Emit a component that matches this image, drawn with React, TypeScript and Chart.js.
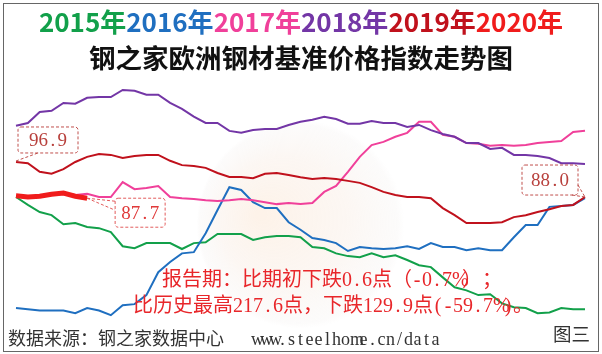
import React, { useEffect, useRef } from "react";
import { Chart, registerables } from "chart.js";

Chart.register(...registerables);

const weeks = ["1","2","3","4","5","6","7","8","9","10","11","12","13","14","15","16","17","18","19","20","21","22","23","24","25","26","27","28","29","30","31","32","33","34","35","36","37","38","39","40","41","42","43","44","45","46","47","48","49"];

const y2015 = [88.0,86.0,84.2,83.4,81.1,81.4,80.4,80.1,79.1,75.5,75.0,76.3,76.3,76.3,74.8,76.3,76.5,78.6,78.6,78.6,77.1,77.8,78.1,78.1,77.8,75.3,75.0,73.7,73.0,72.7,73.7,72.7,73.2,72.0,70.7,70.2,67.6,65.1,64.3,63.1,63.3,61.0,60.0,59.8,58.5,58.7,59.8,59.5,59.5];
const y2016 = [59.8,59.5,59.2,59.2,59.2,58.5,59.8,59.2,58.0,60.5,60.8,63.1,68.9,71.5,73.7,74.0,78.8,84.7,90.5,89.8,86.7,85.2,85.2,81.6,79.7,77.6,77.1,76.3,74.3,75.3,75.0,74.8,75.0,75.5,74.8,76.3,75.3,75.3,74.5,75.0,74.5,74.5,77.8,80.9,80.9,85.5,85.7,86.0,87.7];
const y2017 = [88.2,88.0,88.0,88.5,88.8,88.5,88.8,88.0,88.0,91.8,90.0,90.3,90.8,88.0,87.7,87.5,87.2,87.0,87.2,87.5,87.2,86.7,86.2,86.5,86.2,86.5,89.3,90.8,94.4,98.2,101.2,102.0,103.3,104.3,107.1,107.1,103.8,103.3,101.7,101.5,101.0,101.2,101.0,101.2,101.7,102.0,102.2,104.5,104.8];
const y2018 = [106.1,106.8,109.6,109.9,111.9,111.7,113.2,113.4,113.4,115.2,115.0,114.0,114.0,111.9,110.4,108.4,106.8,106.8,104.8,104.3,105.0,105.3,105.3,106.3,107.1,107.6,108.4,107.8,106.6,106.6,107.3,106.8,106.8,105.8,106.3,105.0,104.0,103.3,101.7,101.7,100.2,100.5,98.7,98.7,98.4,97.9,96.6,96.6,96.4];
const y2019 = [96.9,96.6,94.4,93.9,95.1,96.9,98.2,98.9,98.7,97.9,98.4,98.7,98.7,97.2,96.1,95.9,95.4,94.1,93.1,93.1,92.8,93.9,94.1,93.6,93.0,92.6,92.8,92.6,92.1,91.6,90.5,89.3,88.5,88.0,88.0,87.7,85.2,83.4,81.4,81.4,81.4,81.6,82.9,83.4,84.2,84.9,85.7,86.0,88.0];
const y2020 = [88.3,88.0,88.2,88.7,89.0,88.2,87.7];

const yearNames = ["2015年", "2016年", "2017年", "2018年", "2019年", "2020年"];
const yearColors = ["#12a04a", "#1f6fc0", "#f0409a", "#7336a6", "#c0111c", "#f01c1c"];

const titleText = "钢之家欧洲钢材基准价格指数走势图";
const note1 = "报告期：比期初下跌0.6点（-0.7%）；";
const note2 = "比历史最高217.6点，下跌129.9点(-59.7%)。";
const sourceText = "数据来源：钢之家数据中心   www.steelhome.cn/data";
const figText = "图三";

const SERIF = '"Liberation Serif", "Noto Sans CJK SC", serif';

function drawMono(ctx: CanvasRenderingContext2D, text: string, cx: number, cy: number, size: number) {
  const chars = Array.from(text);
  const adv = size / 2;
  let x = cx - (chars.length * adv) / 2;
  ctx.textAlign = "center";
  ctx.textBaseline = "middle";
  ctx.font = `${size}px "Liberation Serif"`;
  for (const ch of chars) {
    ctx.fillText(ch, x + adv / 2, cy);
    x += adv;
  }
}

const decorPlugin = {
  id: "decor",
  beforeDatasetsDraw(chart: any) {
    const ctx = chart.ctx as CanvasRenderingContext2D;
    const { left, right, top, bottom } = chart.chartArea;
    const cx = left + (right - left) * 0.5;
    const cy = top + (bottom - top) * 0.6;
    const r = 104;
    ctx.save();
    const g = ctx.createRadialGradient(cx - 40, cy - 10, 5, cx, cy, r);
    g.addColorStop(0, "rgba(250,224,200,0.40)");
    g.addColorStop(0.6, "rgba(246,230,218,0.32)");
    g.addColorStop(0.95, "rgba(240,236,234,0.20)");
    g.addColorStop(1, "rgba(240,236,234,0.0)");
    ctx.fillStyle = g;
    ctx.beginPath();
    ctx.arc(cx, cy, r, 0, Math.PI * 2);
    ctx.fill();
    ctx.restore();
  },
  afterDatasetsDraw(chart: any) {
    const ctx = chart.ctx as CanvasRenderingContext2D;
    const d19 = chart.getDatasetMeta(4).data;
    const d20 = chart.getDatasetMeta(5).data;
    const a = d19[0];
    const b = d20[d20.length - 1];
    const c = d19[d19.length - 1];
    ctx.save();
    ctx.lineWidth = 1;
    ctx.setLineDash([3, 2]);

    // 96.9 callout
    ctx.strokeStyle = "#c0504d";
    let bx = a.x + 2, by = a.y - 35, bw = 60, bh = 26;
    ctx.beginPath();
    ctx.roundRect(bx, by, bw, bh, 3);
    ctx.stroke();
    ctx.beginPath();
    ctx.moveTo(a.x, a.y - 1);
    ctx.lineTo(bx + 20, by + bh);
    ctx.stroke();
    ctx.fillStyle = "#b8403c";
    drawMono(ctx, "96.9", bx + bw / 2, by + bh / 2 + 1, 19);

    // 87.7 callout
    ctx.strokeStyle = "#e25c5c";
    bx = b.x + 28; by = b.y; bw = 50; bh = 29;
    ctx.beginPath();
    ctx.roundRect(bx, by, bw, bh, 3);
    ctx.stroke();
    ctx.beginPath();
    ctx.moveTo(b.x, b.y);
    ctx.lineTo(bx, by + 3);
    ctx.moveTo(b.x, b.y);
    ctx.lineTo(bx, by + 12);
    ctx.stroke();
    ctx.fillStyle = "#e03a3a";
    drawMono(ctx, "87.7", bx + bw / 2, by + bh / 2 + 1, 19);

    // 88.0 callout
    ctx.strokeStyle = "#c0504d";
    bx = c.x - 63; by = c.y - 32; bw = 56; bh = 30;
    ctx.beginPath();
    ctx.roundRect(bx, by, bw, bh, 3);
    ctx.stroke();
    ctx.beginPath();
    ctx.moveTo(bx + bw - 6, by + bh);
    ctx.lineTo(c.x, c.y);
    ctx.moveTo(bx + bw, by + bh - 10);
    ctx.lineTo(c.x, c.y);
    ctx.stroke();
    ctx.fillStyle = "#b8403c";
    drawMono(ctx, "88.0", bx + bw / 2, by + bh / 2 + 1, 19);
    ctx.restore();
  },
};

function MonoText(props: { text: string; size: number; color: string; left: number; top: number }) {
  const { text, size, color, left, top } = props;
  return (
    <div
      style={{
        position: "absolute",
        left,
        top,
        whiteSpace: "nowrap",
        fontSize: size,
        lineHeight: `${size}px`,
        color,
        fontFamily: SERIF,
      }}
    >
      {Array.from(text).map((ch, i) => {
        const half = ch.charCodeAt(0) < 0x2000;
        return (
          <span
            key={i}
            style={{ display: "inline-block", width: half ? size / 2 : size, textAlign: "center" }}
          >
            {ch === " " ? "\u00a0" : ch}
          </span>
        );
      })}
    </div>
  );
}

export default function App() {
  const ref = useRef<HTMLCanvasElement | null>(null);

  useEffect(() => {
    if (!ref.current) return;
    const series = [y2015, y2016, y2017, y2018, y2019, y2020];
    const chart = new Chart(ref.current, {
      type: "line",
      data: {
        labels: weeks,
        datasets: series.map((s, i) => ({
          label: yearNames[i],
          data: s,
          borderColor: yearColors[i],
          backgroundColor: yearColors[i],
          borderWidth: i === 5 ? 5 : 2,
          pointRadius: 0,
          tension: 0,
          fill: false,
          order: 5 - i,
        })),
      },
      options: {
        responsive: false,
        animation: false,
        devicePixelRatio: 1,
        layout: { padding: { left: 16, right: 17, top: 71, bottom: 27 } },
        plugins: { legend: { display: false }, title: { display: false }, tooltip: { enabled: false } },
        scales: {
          x: { display: false, offset: false },
          y: { display: false, min: 55, max: 120 },
        },
      },
      plugins: [decorPlugin],
    });
    return () => chart.destroy();
  }, []);

  return (
    <div style={{ position: "absolute", left: 0, top: 0, width: 602, height: 354, background: "#fff", overflow: "hidden" }}>
      <div style={{ position: "absolute", left: 3, top: 3, width: 594, height: 347, border: "1px solid #666" }} />
      <canvas ref={ref} width={602} height={354} style={{ position: "absolute", left: 0, top: 0 }} />
      <div
        style={{
          position: "absolute",
          left: 0,
          top: 8,
          width: 602,
          textAlign: "center",
          fontFamily: '"Noto Sans CJK SC", sans-serif',
          fontWeight: 700,
          fontSize: 26,
          lineHeight: "26px",
          whiteSpace: "nowrap",
        }}
      >
        {yearNames.map((t, i) => (
          <span key={i} style={{ color: yearColors[i] }}>{t}</span>
        ))}
      </div>
      <div
        style={{
          position: "absolute",
          left: 0,
          top: 44,
          width: 602,
          textAlign: "center",
          fontFamily: '"Noto Sans CJK SC", sans-serif',
          fontWeight: 700,
          fontSize: 26.5,
          lineHeight: "26.5px",
          color: "#111",
          whiteSpace: "nowrap",
        }}
      >
        {titleText}
      </div>
      <MonoText text={note1} size={20} color="#e8262a" left={162} top={269} />
      <MonoText text={note2} size={20} color="#e8262a" left={133} top={295} />
      <MonoText text={sourceText} size={18} color="#333" left={8} top={330} />
      <MonoText text={figText} size={18.5} color="#333" left={553} top={326} />
    </div>
  );
}
